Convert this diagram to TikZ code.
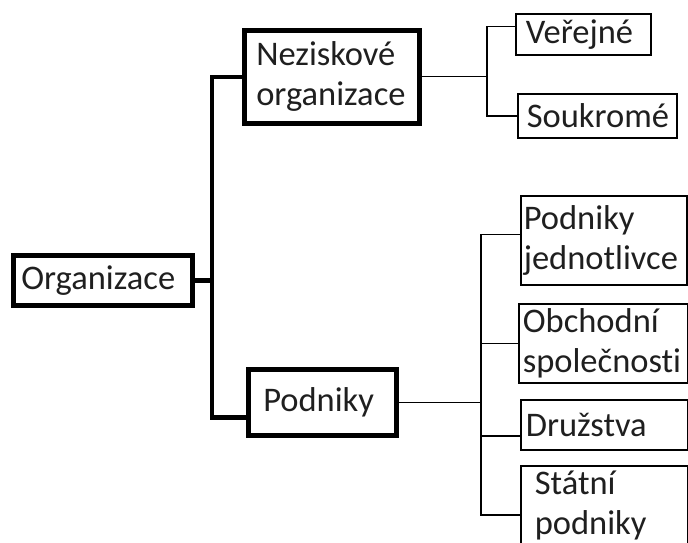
\documentclass[tikz,border=0pt]{standalone}
\usepackage{fontspec}
\setmainfont[Ligatures=NoCommon]{Carlito}
\begin{document}
\begin{tikzpicture}[x=1pt,y=-1pt,
  every node/.style={font=\fontsize{34.5}{40}\selectfont, text=black!90},
  bx/.style={draw, anchor=north west, align=left, inner ysep=0pt, text=black!88},
  thickbox/.style={bx, line width=4.5pt},
  thinbox/.style={bx, line width=1.6pt},
  thk/.style={line width=4.5pt},
  thn/.style={line width=1.4pt}]
\useasboundingbox (0,0) rectangle (688,542);
\clip (0,0) rectangle (688,542);
% boxes
\node[thickbox, minimum width=179pt, minimum height=50pt, text width=163pt, inner xsep=8pt] (org) at (11,253) {Organizace};
\node[thickbox, minimum width=175pt, minimum height=93pt, text width=151pt, inner xsep=12pt] (nez) at (242,28) {Neziskové\\organizace};
\node[thickbox, minimum width=148pt, minimum height=66pt, text width=118pt, inner xsep=15pt] (pod) at (246,367) {Podniky};
\node[thinbox, minimum width=135pt, minimum height=41pt, text width=115pt, inner xsep=10pt] (ver) at (515,13) {Veřejné};
\node[thinbox, minimum width=159pt, minimum height=44pt, text width=141pt, inner xsep=9pt] (sou) at (517,93) {Soukromé};
\node[thinbox, minimum width=166pt, minimum height=89pt, text width=160pt, inner xsep=3pt] (pj) at (520,195) {Podniky\\jednotlivce};
\node[thinbox, minimum width=169pt, minimum height=79pt, text width=161pt, inner xsep=4pt] (obs) at (518,303) {Obchodní\\společnosti};
\node[thinbox, minimum width=167pt, minimum height=50pt, text width=157pt, inner xsep=5pt] (dru) at (520,399) {Družstva};
\node[thinbox, minimum width=167pt, minimum height=80pt, text width=139pt, inner xsep=14pt] (stp) at (520,465) {Státní\\podniky};
% thick trunk
\coordinate (t1) at (212,0);
\coordinate (podlink) at ([yshift=-15pt]pod.west);
\draw[thk] (org.east) -- (org.east -| t1);
\draw[thk] (nez.west) -- (nez.west -| t1) -- (t1 |- podlink) -- (podlink);
% upper right tree
\coordinate (t2) at (487,0);
\coordinate (verlink) at ([yshift=8pt]ver.west);
\draw[thn] (nez.east) -- (nez.east -| t2);
\draw[thn] (verlink) -- (verlink -| t2) -- (t2 |- sou.west) -- (sou.west);
% lower right tree
\coordinate (t3) at (481,0);
\coordinate (pjlink) at ([yshift=6pt]pj.west);
\coordinate (drulink) at ([yshift=-11pt]dru.west);
\coordinate (stplink) at ([yshift=-9pt]stp.west);
\draw[thn] (pod.east) -- (pod.east -| t3);
\draw[thn] (pjlink) -- (pjlink -| t3) -- (t3 |- stplink) -- (stplink);
\draw[thn] (obs.west) -- (obs.west -| t3);
\draw[thn] (drulink) -- (drulink -| t3);
\end{tikzpicture}
\end{document}
